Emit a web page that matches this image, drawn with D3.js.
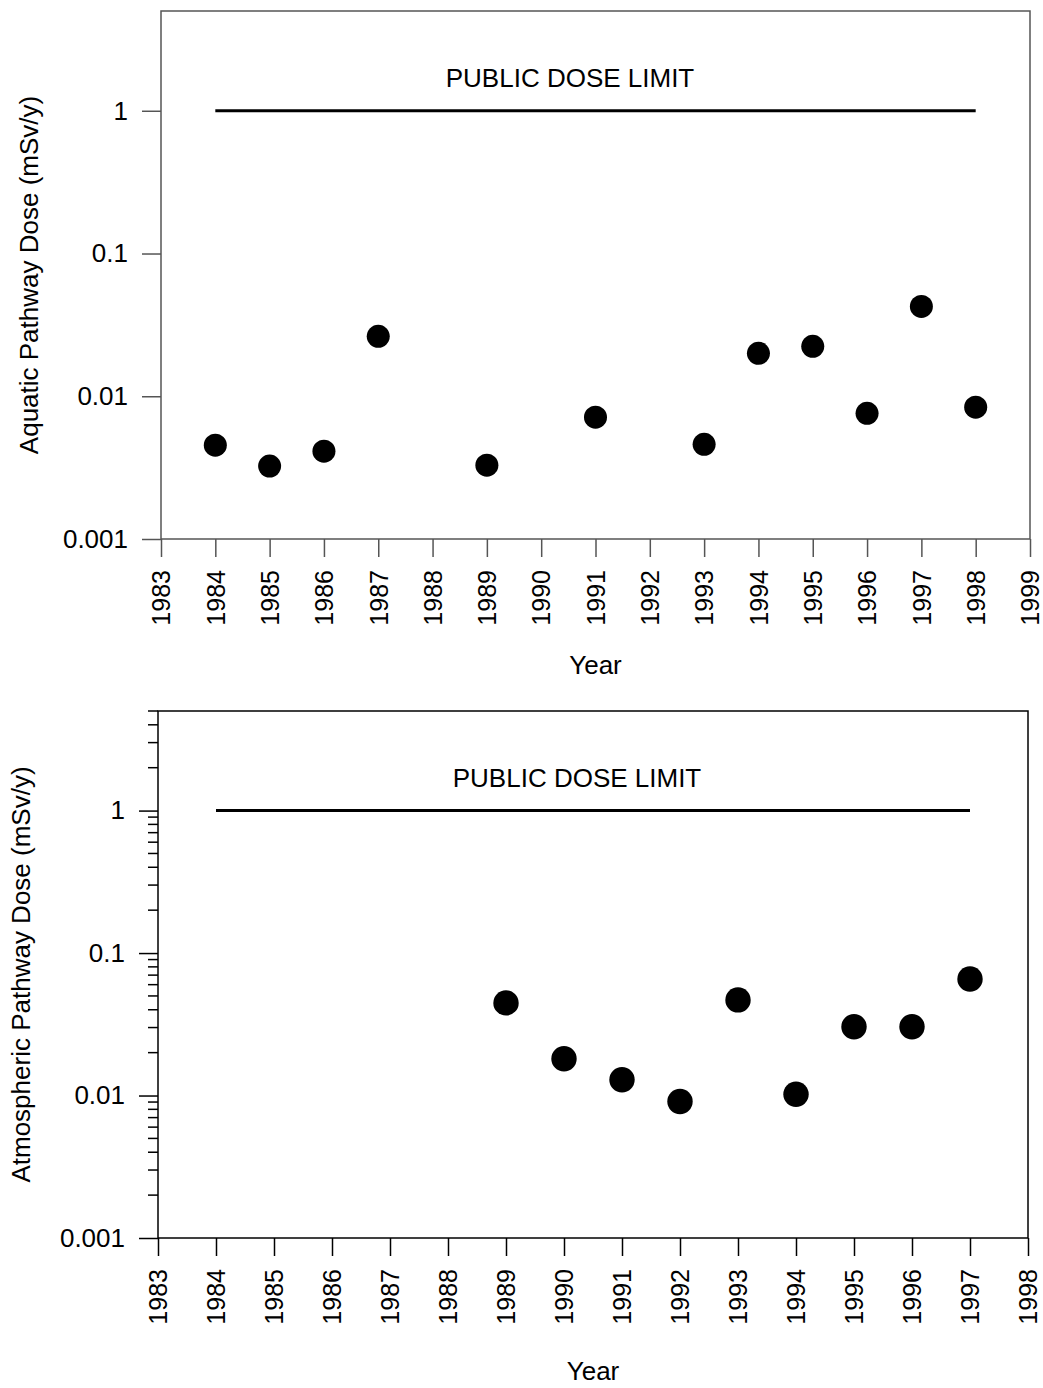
<!doctype html>
<html>
<head>
<meta charset="UTF-8">
<title>dose charts</title>
<script src="https://d3js.org/d3.v7.min.js"></script>
<style>
  body { margin: 0; background: #fff; }
  text { font-family: "Liberation Sans", Arial, sans-serif; fill: #000; }
</style>
</head>
<body>
<svg width="1043" height="1388"></svg>
<script>
// aquatic pathway (top)
var aquaticYears = [1984, 1985, 1986, 1987, 1989, 1991, 1993, 1994, 1995, 1996, 1997, 1998];
var aquaticDose  = [0.00454, 0.00324, 0.00412, 0.0263, 0.00329, 0.00713, 0.00461, 0.0200, 0.0224, 0.0076, 0.0426, 0.00838];

// atmospheric pathway (bottom)
var atmosYears = [1989, 1990, 1991, 1992, 1993, 1994, 1995, 1996, 1997];
var atmosDose  = [0.0447, 0.0181, 0.0129, 0.00908, 0.0469, 0.0102, 0.0304, 0.0304, 0.0658];

var yTicks = [0.001, 0.01, 0.1, 1];
var doseLimit = 1;
var limitLabel = "PUBLIC DOSE LIMIT";

var svg = d3.select("svg");
var fs = 26;

function panel(o){
    var g = svg.append("g");
    var x = d3.scaleLinear().domain(o.xDomain).range([o.left, o.right]);
    var y = d3.scaleLog().domain([0.001, 5]).range([o.bottom, o.top]);

    // frame
    g.append("rect").attr("x", o.left).attr("y", o.top)
        .attr("width", o.right - o.left).attr("height", o.bottom - o.top)
        .attr("fill", "none").attr("stroke", o.axisColor).attr("stroke-width", 1.5);

    // y axis
    var ya = g.append("g").attr("transform", "translate(" + o.left + ",0)")
        .call(d3.axisLeft(y).tickValues(yTicks).tickSize(19).tickPadding(14)
            .tickFormat(function(d){ return d3.format("")(d); }));
    ya.select(".domain").remove();
    ya.selectAll("line").attr("stroke", o.axisColor).attr("stroke-width", 1.5);
    ya.selectAll("text").attr("font-size", fs).attr("font-family", "Liberation Sans, Arial, sans-serif");

    if (o.minor) {
        var minors = [];
        [0.001, 0.01, 0.1, 1].forEach(function(dec){
            for (var k = 2; k <= 9; k++) { if (dec*k <= 5) minors.push(dec*k); }
        });
        g.selectAll(".minor").data(minors).enter().append("line")
            .attr("x1", o.left - 10).attr("x2", o.left)
            .attr("y1", function(d){ return y(d); }).attr("y2", function(d){ return y(d); })
            .attr("stroke", o.axisColor).attr("stroke-width", 1.5);
    }

    // x axis
    var xa = g.append("g").attr("transform", "translate(0," + o.bottom + ")")
        .call(d3.axisBottom(x).tickValues(d3.range(o.xDomain[0], o.xDomain[1] + 1))
            .tickSize(18).tickFormat(d3.format("d")));
    xa.select(".domain").remove();
    xa.selectAll("line").attr("stroke", o.axisColor).attr("stroke-width", 1.5);
    xa.selectAll("text")
        .attr("font-size", 25).attr("font-family", "Liberation Sans, Arial, sans-serif")
        .attr("transform", "rotate(-90)")
        .attr("text-anchor", "end")
        .attr("x", -31).attr("y", 0).attr("dy", "0.35em");

    // limit line
    g.append("line")
        .attr("x1", x(o.limitFrom)).attr("x2", x(o.limitTo))
        .attr("y1", y(doseLimit)).attr("y2", y(doseLimit))
        .attr("stroke", "#000").attr("stroke-width", 3);
    g.append("text").attr("x", o.labelX).attr("y", y(doseLimit) - 24)
        .attr("text-anchor", "middle").attr("font-size", fs).text(limitLabel);

    // points
    g.selectAll("circle").data(o.years).enter().append("circle")
        .attr("cx", function(d){ return x(d); })
        .attr("cy", function(d, i){ return y(o.values[i]); })
        .attr("r", o.r).attr("fill", "#000");

    // titles
    g.append("text").attr("x", (o.left + o.right) / 2).attr("y", o.xTitleY)
        .attr("text-anchor", "middle").attr("font-size", fs).text("Year");
    g.append("text")
        .attr("transform", "translate(" + o.yTitleX + "," + ((o.top + o.bottom) / 2) + ") rotate(-90)")
        .attr("text-anchor", "middle").attr("font-size", fs).text(o.yTitle);
}

panel({
    left: 161, right: 1030, top: 11, bottom: 539,
    xDomain: [1983, 1999], years: aquaticYears, values: aquaticDose,
    limitFrom: 1984, limitTo: 1998, labelX: 570,
    r: 11.5, axisColor: "#555", minor: false,
    xTitleY: 674, yTitleX: 38, yTitle: "Aquatic Pathway Dose (mSv/y)"
});

panel({
    left: 158, right: 1028, top: 711, bottom: 1238,
    xDomain: [1983, 1998], years: atmosYears, values: atmosDose,
    limitFrom: 1984, limitTo: 1997, labelX: 577,
    r: 12.7, axisColor: "#000", minor: true,
    xTitleY: 1380, yTitleX: 30, yTitle: "Atmospheric Pathway Dose (mSv/y)"
});
</script>
</body>
</html>
